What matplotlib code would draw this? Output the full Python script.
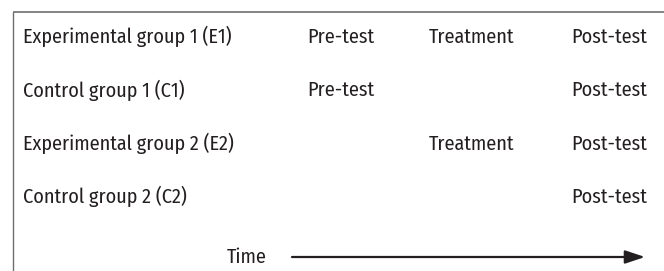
import matplotlib
matplotlib.use('Agg')
import matplotlib.pyplot as plt

# 实验设计示意图（Solomon 四组设计）
groups = ['Experimental group 1 (E1)', 'Control group 1 (C1)',
          'Experimental group 2 (E2)', 'Control group 2 (C2)']
pre_test = ['Pre-test', 'Pre-test', '', '']
treatment = ['Treatment', '', 'Treatment', '']
post_test = ['Post-test', 'Post-test', 'Post-test', 'Post-test']
axis_label = 'Time'

plt.rcParams['font.family'] = ['Fira Sans Condensed', 'DejaVu Sans']
txt_color = '#231f20'
fs = 14.5

fig = plt.figure(figsize=(6.64, 2.71), dpi=100)
ax = fig.add_axes([0, 0, 1, 1])
ax.set_xlim(0, 664)
ax.set_ylim(271, 0)
ax.axis('off')

# 边框：只有上边和左边
ax.plot([12.5, 664], [12, 12], color='#6d6e70', lw=1.2, solid_capstyle='butt')
ax.plot([12.5, 12.5], [12, 271], color='#6d6e70', lw=1.0, solid_capstyle='butt')

row_y = [43, 96.5, 150, 203]
col_x = [23, 307, 429, 571]
for i, y in enumerate(row_y):
    for x, s in zip(col_x, [groups[i], pre_test[i], treatment[i], post_test[i]]):
        if s:
            ax.text(x, y, s, fontsize=fs, color=txt_color, ha='left', va='baseline')

ax.text(227, 263, axis_label, fontsize=fs, color=txt_color, ha='left', va='baseline')
ax.annotate('', xy=(645, 257), xytext=(292, 257),
            arrowprops=dict(arrowstyle='-|>,head_length=1.2,head_width=0.4',
                            color=txt_color, lw=1.6, shrinkA=0, shrinkB=0))

fig.savefig('out.png', dpi=100)
